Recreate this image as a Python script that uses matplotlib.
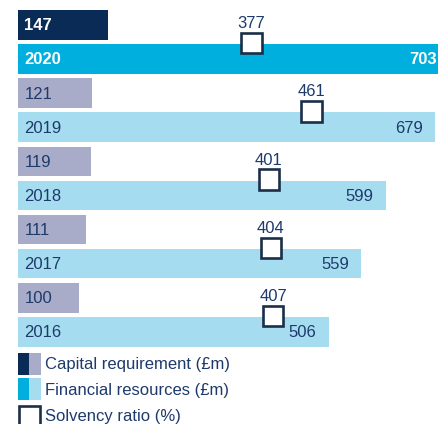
import matplotlib.pyplot as plt
from matplotlib.patches import Rectangle

plt.rcParams['font.family'] = ['Liberation Sans', 'DejaVu Sans']

years = ['2020', '2019', '2018', '2017', '2016']
capital_req = [147, 121, 119, 111, 100]
financial_res = [703, 679, 599, 559, 506]
solvency = [377, 461, 401, 404, 407]

legend_labels = ['Capital requirement (£m)', 'Financial resources (£m)', 'Solvency ratio (%)']

navy = '#0b2b57'
cyan = '#00afdd'
lavender = '#a9acc8'
light_blue = '#a5dcf0'
text_col = '#1d3a6b'
edge_col = '#1b2e4a'

W, H = 438, 424
fig = plt.figure(figsize=(W / 100, H / 100), dpi=100)

# bars: x in £m, y in pixels from the top
x0, scale = 17.5, 0.615
ax = fig.add_axes([0, 0, 1, 1])
ax.set_xlim(-x0 / scale, (W - x0) / scale)
ax.set_ylim(H, 0)
ax.axis('off')

# squares: solvency ratio on its own scale
r0, rscale = -17.5, 0.714
ax2 = fig.add_axes([0, 0, 1, 1], facecolor='none')
ax2.set_xlim(-r0 / rscale, (W - r0) / rscale)
ax2.set_ylim(H, 0)
ax2.axis('off')

fs = 12
pitch = 68.3
bar_h = 29.5
sq = 20.5
for i, yr in enumerate(years):
    top = 10 + i * pitch
    fin_top = top + 34
    latest = i == 0
    c1 = navy if latest else lavender
    c2 = cyan if latest else light_blue
    tc = 'white' if latest else text_col
    fw = 'bold' if latest else 'normal'
    ax.barh(top + bar_h / 2, capital_req[i], height=bar_h, left=0, color=c1,
            linewidth=0)
    ax.barh(fin_top + bar_h / 2, financial_res[i], height=bar_h, left=0, color=c2,
            linewidth=0)
    ax.annotate(str(capital_req[i]), (0, top + bar_h / 2 + 1), xytext=(5, 0),
                textcoords='offset points', va='center', ha='left',
                color=tc, fontsize=fs, fontweight=fw)
    ax.annotate(yr, (0, fin_top + bar_h / 2 + 1), xytext=(5, 0),
                textcoords='offset points', va='center', ha='left',
                color=tc, fontsize=fs, fontweight=fw)
    ax.annotate(str(financial_res[i]), (financial_res[i], fin_top + bar_h / 2 + 1),
                xytext=(-9, 0), textcoords='offset points', va='center',
                ha='right', color=tc, fontsize=fs, fontweight=fw,
                annotation_clip=False)
    w = sq / rscale
    ax2.add_patch(Rectangle((solvency[i] - w / 2, fin_top - 1 - sq / 2), w, sq,
                            facecolor='white', edgecolor=edge_col, lw=1.9,
                            zorder=5))
    ax2.annotate(str(solvency[i]), (solvency[i], fin_top - 13), ha='center',
                 va='bottom', color=text_col, fontsize=fs)

# legend in pixel coordinates
lay = fig.add_axes([0, 0, 1, 1], facecolor='none')
lay.set_xlim(0, W)
lay.set_ylim(H, 0)
lay.axis('off')
lay.add_patch(Rectangle((17.5, 353), 11.5, 22, color=navy, lw=0))
lay.add_patch(Rectangle((29, 353), 12, 22, color=lavender, lw=0))
lay.add_patch(Rectangle((17.5, 378), 11.5, 22, color=cyan, lw=0))
lay.add_patch(Rectangle((29, 378), 12, 22, color=light_blue, lw=0))
lay.add_patch(Rectangle((19, 406), 21, 21, facecolor='white', edgecolor=edge_col,
                        lw=1.9, clip_on=False))
for j, lab in enumerate(legend_labels):
    lay.text(45, 365 + j * 25.5, lab, va='center', ha='left', color=text_col,
             fontsize=fs)

fig.savefig('out.png', dpi=100)
